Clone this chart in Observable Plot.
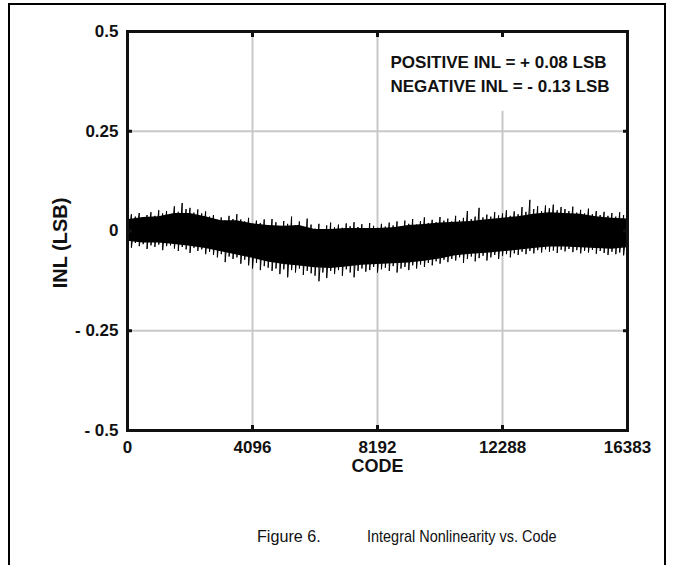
<!DOCTYPE html>
<html>
<head>
<meta charset="utf-8">
<script src="https://cdn.jsdelivr.net/npm/d3@7"></script>
<script src="https://cdn.jsdelivr.net/npm/@observablehq/plot@0.6"></script>
<style>
  html, body { margin: 0; padding: 0; background: #fff; }
  body { width: 675px; height: 565px; position: relative; overflow: hidden; font-family: "Liberation Sans", Arial, sans-serif; }
  #border { position: absolute; left: 8px; top: 3px; width: 654px; height: 620px; border: 2px solid #000; }
  #chart { position: absolute; left: 0; top: 0; }
  #ylabel { position: absolute; left: 60px; top: 243px; width: 0; height: 0; }
  #ylabel span { position: absolute; transform: translate(-50%, -50%) rotate(-90deg); white-space: nowrap; font-size: 20px; font-weight: bold; color: #111; line-height: 1; }
  #caption { position: absolute; top: 527px; left: 0; width: 675px; font-size: 17px; color: #111; white-space: nowrap; }
  #caption span { position: absolute; transform-origin: 0 50%; }
  #caption .fig { left: 257px; transform: scaleX(0.95); }
  #caption .ttl { left: 367px; transform: scaleX(0.85); }
</style>
</head>
<body>
<div id="border"></div>
<div id="chart"></div>
<div id="ylabel"><span>INL (LSB)</span></div>
<div id="caption"><span class="fig">Figure 6.</span><span class="ttl">Integral Nonlinearity vs. Code</span></div>
<script>
// ---- tick / grid definitions ----
const xTickValues = [0, 4096, 8192, 12288, 16383];
const yTickValues = [-0.5, -0.25, 0, 0.25, 0.5];
const yTickLabels = ["- 0.5", "- 0.25", "0", "0.25", "0.5"];
const xGridValues = [4096, 8192, 12288];
const xGridTops = [0.5, 0.5, 0.3];
const yGridValues = [-0.25, 0, 0.25];
const annotationLines = ["POSITIVE INL = + 0.08 LSB", "NEGATIVE INL = - 0.13 LSB"];

// ---- INL readings (peak high / low of the trace every 128 codes) ----
const inlHigh = [
  0.030, 0.042, 0.036, 0.045, 0.033, 0.040,
  0.047, 0.038, 0.052, 0.044, 0.050, 0.041,
  0.062, 0.048, 0.070, 0.055, 0.058, 0.046,
  0.054, 0.044, 0.049, 0.036, 0.040, 0.028,
  0.034, 0.026, 0.038, 0.030, 0.042, 0.029,
  0.024, 0.033, 0.018, 0.026, 0.020, 0.029,
  0.015, 0.030, 0.022, 0.012, 0.025, 0.018,
  0.036, 0.014, 0.024, 0.010, 0.031, 0.016,
  0.006, 0.018, 0.002, 0.014, 0.021, 0.009,
  0.016, 0.008, 0.019, 0.012, 0.022, 0.010,
  0.017, 0.006, 0.020, 0.013, 0.008, 0.018,
  0.011, 0.021, 0.014, 0.024, 0.012, 0.026,
  0.018, 0.030, 0.016, 0.025, 0.034, 0.020,
  0.028, 0.022, 0.035, 0.026, 0.031, 0.024,
  0.038, 0.027, 0.033, 0.050, 0.030, 0.036,
  0.058, 0.034, 0.041, 0.036, 0.047, 0.039,
  0.044, 0.052, 0.038, 0.049, 0.042, 0.060,
  0.048, 0.078, 0.055, 0.062, 0.050, 0.064,
  0.057, 0.066, 0.052, 0.060, 0.055, 0.050,
  0.061, 0.046, 0.053, 0.044, 0.056, 0.042,
  0.050, 0.040, 0.048, 0.038, 0.045, 0.036,
  0.047, 0.040, 0.035
];
const inlLow = [
  -0.034, -0.042, -0.030, -0.038, -0.033, -0.045,
  -0.036, -0.040, -0.034, -0.048, -0.038, -0.036,
  -0.044, -0.050, -0.040, -0.046, -0.055, -0.042,
  -0.050, -0.046, -0.058, -0.052, -0.060, -0.066,
  -0.058, -0.078, -0.064, -0.070, -0.066, -0.082,
  -0.072, -0.086, -0.094, -0.080, -0.098, -0.088,
  -0.092, -0.100, -0.094, -0.108, -0.096, -0.116,
  -0.098, -0.104, -0.094, -0.110, -0.100, -0.106,
  -0.112, -0.126, -0.104, -0.118, -0.100, -0.108,
  -0.098, -0.112, -0.096, -0.104, -0.116, -0.100,
  -0.094, -0.102, -0.098, -0.090, -0.104, -0.096,
  -0.092, -0.100, -0.088, -0.104, -0.094, -0.090,
  -0.098, -0.086, -0.094, -0.084, -0.090, -0.080,
  -0.086, -0.076, -0.082, -0.072, -0.078, -0.070,
  -0.074, -0.066, -0.080, -0.070, -0.064, -0.076,
  -0.068, -0.062, -0.074, -0.066, -0.060, -0.070,
  -0.062, -0.058, -0.066, -0.056, -0.060, -0.052,
  -0.058, -0.050, -0.056, -0.048, -0.054, -0.046,
  -0.052, -0.049, -0.055, -0.047, -0.051, -0.045,
  -0.053, -0.048, -0.056, -0.050, -0.054, -0.047,
  -0.057, -0.050, -0.055, -0.060, -0.052, -0.058,
  -0.054, -0.061, -0.050
];
// dense (solid) core of the trace, read every 512 codes
const coreCodes = [0, 512, 1024, 1536, 2048, 2560, 3072, 3584, 4096, 4608, 5120, 5632, 6144, 6656, 7168, 7680, 8192,
  8704, 9216, 9728, 10240, 10752, 11264, 11776, 12288, 12800, 13312, 13824, 14336, 14848, 15360, 15872, 16383];
const coreHigh = [0.028, 0.034, 0.036, 0.044, 0.044, 0.036, 0.026, 0.026, 0.018, 0.014, 0.012, 0.014, 0.004, 0.004, 0.006, 0.006, 0.006,
  0.008, 0.014, 0.016, 0.020, 0.022, 0.024, 0.028, 0.032, 0.036, 0.042, 0.046, 0.044, 0.042, 0.036, 0.032, 0.030];
const coreLow = [-0.026, -0.030, -0.030, -0.034, -0.038, -0.044, -0.052, -0.060, -0.068, -0.078, -0.084, -0.088, -0.092, -0.094, -0.090, -0.086, -0.084,
  -0.082, -0.080, -0.076, -0.070, -0.062, -0.058, -0.056, -0.052, -0.048, -0.044, -0.040, -0.040, -0.042, -0.044, -0.046, -0.042];

// ---- build tables ----
const readingCodes = d3.range(0, 16384, 128).concat([16383]);
const trace = [];
readingCodes.forEach((c, i) => {
  trace.push({code: c, inl: inlHigh[i]});
  trace.push({code: c, inl: inlLow[i]});
});
const core = coreCodes.map((c, i) => ({code: c, hi: coreHigh[i], lo: coreLow[i]}));
const xGrid = xGridValues.map((v, i) => ({code: v, top: xGridTops[i]}));
const yLabel = new Map(yTickValues.map((v, i) => [v, yTickLabels[i]]));

const ink = "#111";
const gridColor = "#c8c8c8";

const chart = Plot.plot({
  width: 675,
  height: 480,
  marginLeft: 127,
  marginRight: 48,
  marginTop: 31,
  marginBottom: 50,
  style: {fontFamily: '"Liberation Sans", Arial, sans-serif', fontWeight: "bold", fontSize: "17px", color: ink, background: "transparent"},
  x: {domain: [0, 16383]},
  y: {domain: [-0.5, 0.5]},
  marks: [
    Plot.ruleY(yGridValues, {stroke: gridColor, strokeWidth: 2}),
    Plot.ruleX(xGrid, {x: "code", y1: -0.5, y2: "top", stroke: gridColor, strokeWidth: 2}),
    Plot.areaY(core, {x: "code", y1: "lo", y2: "hi", fill: "#000"}),
    Plot.line(trace, {x: "code", y: "inl", stroke: "#000", strokeWidth: 1}),
    Plot.text([annotationLines.join("\n")], {frameAnchor: "top", textAnchor: "start", lineAnchor: "top", dx: 13, dy: 19, lineHeight: 1.42, fontSize: 17, fontWeight: "bold", fill: ink}),
    // inward tick marks on all four sides
    Plot.axisX(xTickValues, {anchor: "bottom", tickSize: -5, strokeWidth: 3, tickFormat: () => "", label: null}),
    Plot.axisX(xTickValues, {anchor: "top", tickSize: -5, strokeWidth: 3, tickFormat: () => "", label: null}),
    Plot.axisY(yTickValues, {anchor: "left", tickSize: -5, strokeWidth: 3, tickFormat: () => "", label: null}),
    Plot.axisY(yTickValues, {anchor: "right", tickSize: -5, strokeWidth: 3, tickFormat: () => "", label: null}),
    // tick labels
    Plot.axisX(xTickValues, {anchor: "bottom", tickSize: 0, tickPadding: 10, fontSize: 17, tickFormat: d => String(d), label: null}),
    Plot.axisY(yTickValues, {anchor: "left", tickSize: 0, tickPadding: 9, fontSize: 17, tickFormat: d => yLabel.get(d), label: null}),
    // x axis title
    Plot.text(["CODE"], {frameAnchor: "bottom", lineAnchor: "top", dy: 29, fontSize: 18, fontWeight: "bold", fill: ink}),
    Plot.frame({stroke: ink, strokeWidth: 3})
  ]
});
document.getElementById("chart").appendChild(chart);
</script>
</body>
</html>
